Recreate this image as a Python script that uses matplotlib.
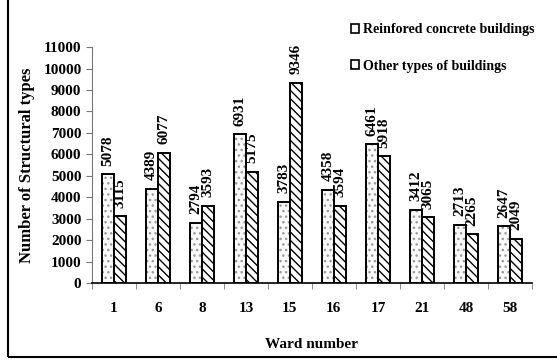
import matplotlib
matplotlib.use("Agg")
import matplotlib.pyplot as plt
import numpy as np
from matplotlib.patches import Rectangle

plt.rcParams["font.family"] = ["Liberation Serif", "DejaVu Serif"]
plt.rcParams["font.weight"] = "bold"
plt.rcParams["hatch.linewidth"] = 1.0

wards = ["1", "6", "8", "13", "15", "16", "17", "21", "48", "58"]
rc_buildings = [5078, 4389, 2794, 6931, 3783, 4358, 6461, 3412, 2713, 2647]
other_buildings = [3115, 6077, 3593, 5175, 9346, 3594, 5918, 3065, 2265, 2049]

fig = plt.figure(figsize=(5.57, 3.6), dpi=100)
ax = fig.add_axes([0.165, 0.214, 0.79, 0.655])

x = np.arange(len(wards))
w = 0.28
# dotted fill drawn first with grey hatch, black outline on top
ax.bar(x - w / 2, rc_buildings, w, color="#fafafa", edgecolor="#9a9a9a",
       linewidth=0, hatch="...")
b1 = ax.bar(x - w / 2, rc_buildings, w, fill=False, edgecolor="black",
            linewidth=1.4)
b2 = ax.bar(x + w / 2, other_buildings, w, color="white", edgecolor="black",
            linewidth=1.4, hatch="\\\\\\\\")

for vals, off in ((rc_buildings, -w / 2), (other_buildings, w / 2)):
    for i, v in enumerate(vals):
        ax.text(x[i] + off, v + 400, str(v), rotation=90, ha="center",
                va="bottom", fontsize=11, fontweight="bold")

ax.set_xlim(-0.5, len(wards) - 0.5)
ax.set_ylim(0, 11000)
ax.set_yticks(range(0, 11001, 1000))
ax.set_xticks(x)
ax.set_xticklabels(wards, fontsize=11, fontweight="bold")
ax.set_xticks(np.arange(-0.5, len(wards), 1), minor=True)
ax.tick_params(axis="x", which="major", length=0, pad=14)
ax.tick_params(axis="x", which="minor", length=4, direction="out", color="#777777")
ax.tick_params(axis="y", labelsize=11, length=4, color="#777777")
for lab in ax.get_yticklabels():
    lab.set_fontweight("bold")

ax.spines["top"].set_visible(False)
ax.spines["right"].set_visible(False)
ax.spines["left"].set_color("#777777")
ax.spines["bottom"].set_linewidth(1.2)

ax.set_ylabel("Number of Structural types", fontsize=12, fontweight="bold",
              labelpad=6)
ax.set_xlabel("Ward number", fontsize=11, fontweight="bold", labelpad=16)

h1 = Rectangle((0, 0), 1, 1, facecolor="white", edgecolor="black", linewidth=1.2)
h2 = Rectangle((0, 0), 1, 1, facecolor="white", edgecolor="black", linewidth=1.2,
               hatch="\\\\")
fig.legend([h1, h2], ["Reinfored concrete buildings", "Other types of buildings"],
           loc="upper left", bbox_to_anchor=(0.617, 0.955), frameon=False,
           fontsize=10, handlelength=0.6, handleheight=0.6,
           handletextpad=0.3, labelspacing=1.7, borderpad=0)

fig.patches.append(Rectangle((0.015, 0.009), 1.2, 1.2, transform=fig.transFigure,
                             fill=False, edgecolor="black", linewidth=1.5))

fig.savefig("out.png", dpi=100)
